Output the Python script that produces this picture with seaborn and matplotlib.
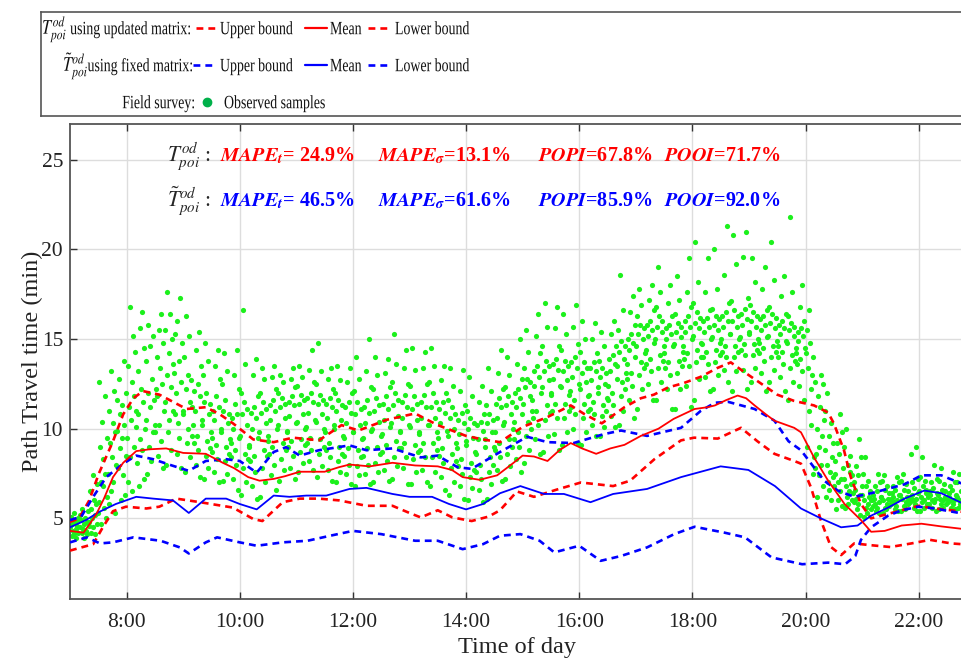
import matplotlib
matplotlib.use('Agg')
import matplotlib.pyplot as plt
import seaborn as sns
import numpy as np
import pandas as pd
from matplotlib.textpath import TextPath
from matplotlib.patches import PathPatch
from matplotlib.font_manager import FontProperties
from matplotlib.transforms import Affine2D

# curves (hour of day, minutes)
red_mean_t = [7.0, 7.24, 7.46, 7.6, 7.76, 7.94, 8.17, 8.4, 8.7, 9.0, 9.4, 9.7, 9.9, 10.15, 10.35, 10.6, 10.8,
              11.06, 11.5, 11.75, 11.94, 12.3, 12.7, 13.1, 13.5, 13.75, 13.94, 14.24, 14.55, 14.8, 15.0, 15.2,
              15.44, 15.65, 15.85, 16.05, 16.3, 16.55, 16.8, 17.09, 17.4, 17.67, 18.04, 18.27, 18.4, 18.6, 18.8,
              18.95, 19.1, 19.3, 19.45, 19.8, 19.92, 20.15, 20.4, 20.69, 20.98, 21.16, 21.4, 21.7, 22.05, 22.4, 22.8]
red_mean_y = [4.3, 4.2, 5.2, 6.1, 7.3, 8.1, 8.75, 8.85, 8.9, 8.65, 8.6, 8.1, 7.8, 7.3, 7.1, 7.2, 7.35,
              7.6, 7.6, 7.85, 8.0, 7.9, 8.1, 7.95, 7.9, 7.7, 7.3, 7.15, 7.4, 8.0, 8.5, 8.45,
              8.2, 8.8, 9.2, 8.9, 8.6, 8.9, 9.1, 9.6, 10.0, 10.55, 11.1, 11.2, 11.3, 11.6, 11.85,
              11.7, 11.3, 10.8, 10.45, 10.05, 9.8, 8.4, 7.1, 5.8, 4.9, 4.25, 4.3, 4.6, 4.7, 4.55, 4.4]

red_up_t = [7.0, 7.16, 7.34, 7.51, 7.76, 7.94, 8.12, 8.29, 8.58, 8.88, 9.06, 9.4, 9.65, 9.88, 10.24, 10.6,
            10.94, 11.4, 11.8, 12.1, 12.6, 13.1, 13.5, 14.0, 14.3, 14.6, 15.0, 15.44, 15.85, 16.1, 16.4, 16.8,
            17.09, 17.32, 17.57, 17.85, 18.15, 18.45, 18.68, 18.9, 19.2, 19.5, 19.8, 20.15, 20.4, 20.5, 20.68,
            20.8, 20.98, 21.16, 21.4, 21.7, 22.0, 22.27, 22.58, 22.8]
red_up_y = [4.8, 5.0, 6.0, 7.5, 9.3, 10.8, 11.7, 12.1, 11.9, 11.4, 11.1, 11.2, 10.8, 10.3, 9.4, 9.25,
            9.5, 9.35, 10.2, 9.9, 10.5, 10.85, 10.2, 9.6, 9.4, 9.25, 10.1, 10.65, 11.3, 10.8, 10.3, 11.2,
            11.7, 11.9, 12.3, 12.55, 12.9, 13.4, 13.7, 13.2, 12.55, 11.9, 11.55, 11.3, 10.9, 10.3, 8.8,
            7.3, 5.8, 5.0, 5.2, 5.45, 5.7, 5.55, 5.45, 5.35]

red_low_t = [7.0, 7.41, 7.58, 7.76, 7.99, 8.35, 8.58, 8.88, 9.3, 9.88, 10.24, 10.4, 10.76, 11.06, 11.4,
             11.76, 12.24, 12.7, 13.0, 13.2, 13.5, 13.76, 14.1, 14.4, 14.6, 14.9, 15.2, 15.6, 16.03, 16.6,
             16.9, 17.33, 17.8, 18.03, 18.45, 18.86, 19.15, 19.45, 19.8, 19.92, 20.1, 20.27, 20.45, 20.63,
             20.86, 21.16, 21.5, 21.87, 22.2, 22.58, 22.8]
red_low_y = [3.2, 3.56, 4.5, 5.4, 5.65, 5.55, 5.65, 6.1, 5.9, 5.6, 4.96, 4.85, 5.9, 6.1, 6.1,
             6.0, 5.7, 5.7, 5.3, 5.05, 5.45, 5.05, 4.85, 5.1, 5.45, 6.5, 6.2, 6.6, 7.0, 6.8,
             7.1, 8.3, 9.35, 9.5, 9.45, 10.05, 9.3, 8.6, 8.2, 8.05, 6.7, 4.9, 3.4, 2.95,
             3.6, 3.5, 3.4, 3.6, 3.8, 3.6, 3.55]

blue_mean_t = [7.0, 7.28, 7.51, 7.81, 8.17, 8.47, 8.82, 9.1, 9.4, 9.76, 10.0, 10.3, 10.6, 10.88, 11.18,
               11.53, 11.94, 12.24, 12.7, 13.0, 13.4, 13.7, 14.0, 14.3, 14.6, 14.96, 15.38, 15.73, 16.2,
               16.6, 17.2, 17.8, 18.5, 18.99, 19.46, 19.92, 20.27, 20.63, 20.92, 21.16, 21.46, 21.75, 22.1,
               22.4, 22.8]
blue_mean_y = [4.5, 4.9, 5.35, 5.8, 6.2, 6.1, 6.0, 5.3, 6.1, 6.1, 5.8, 5.5, 6.27, 6.2, 6.27,
               6.27, 6.64, 6.7, 6.36, 6.2, 6.2, 5.8, 5.5, 5.8, 6.4, 6.8, 6.36, 6.36, 5.9,
               6.36, 6.64, 7.3, 7.9, 7.7, 6.8, 5.55, 5.0, 4.5, 4.6, 5.15, 5.6, 6.1, 6.55,
               6.4, 5.8]

blue_up_t = [7.0, 7.2, 7.41, 7.64, 7.94, 8.17, 8.47, 8.8, 9.1, 9.4, 9.76, 10.0, 10.3, 10.6, 10.82, 11.06,
             11.4, 11.94, 12.24, 12.7, 13.2, 13.5, 13.85, 14.1, 14.6, 15.08, 15.44, 15.9, 16.44, 16.74, 17.2,
             17.8, 18.15, 18.4, 18.63, 19.1, 19.45, 19.7, 19.92, 20.1, 20.33, 20.57, 20.86, 21.16, 21.46,
             21.75, 22.05, 22.4, 22.63, 22.8]
blue_up_y = [4.9, 5.1, 6.2, 7.3, 8.05, 8.5, 8.3, 7.95, 7.65, 8.2, 8.3, 8.2, 7.55, 8.7, 8.97, 8.5,
             8.8, 9.07, 8.8, 8.9, 8.4, 8.5, 7.85, 7.76, 8.7, 9.55, 9.25, 9.2, 9.7, 9.9, 9.6,
             10.05, 11.0, 11.45, 11.5, 11.1, 10.45, 9.3, 8.8, 8.05, 7.1, 6.55, 6.2, 6.4, 6.65,
             6.9, 7.4, 7.4, 7.1, 6.9]

blue_low_t = [7.0, 7.3, 7.53, 7.76, 8.12, 8.6, 8.94, 9.1, 9.4, 9.6, 10.0, 10.3, 10.76, 11.2, 11.6, 12.0,
              12.5, 13.1, 13.5, 13.94, 14.3, 14.6, 14.96, 15.3, 15.56, 16.0, 16.38, 16.74, 17.2, 17.68,
              18.04, 18.57, 18.93, 19.4, 19.94, 20.4, 20.7, 20.88, 20.98, 21.16, 21.46, 21.7, 22.0, 22.28,
              22.63, 22.8]
blue_low_y = [3.66, 3.94, 3.6, 3.66, 3.94, 3.75, 3.38, 3.04, 3.66, 3.94, 3.66, 3.47, 3.66, 3.75, 4.03, 4.3,
              4.12, 3.75, 3.75, 3.28, 3.56, 4.03, 4.12, 3.75, 3.1, 3.47, 2.63, 2.9, 3.38, 4.12,
              4.53, 4.2, 3.94, 2.82, 2.44, 2.53, 2.44, 2.9, 3.8, 4.5, 5.15, 5.45, 5.65, 5.55,
              5.35, 5.25]

# field survey samples, one list per 10-minute slot starting at 7:00
obs_samples = [
    [4.5, 5.1, 4.0, 4.7, 4.3, 5.3, 4.1, 4.8, 4.4, 3.9, 4.6, 5.0, 4.2, 4.9],
    [4.6, 5.4, 4.1, 4.8, 4.3, 5.0, 3.9, 4.7, 4.4, 5.5, 4.2, 4.9, 4.5, 5.2],
    [4.8, 6.5, 4.2, 5.5, 5.0, 7.4, 4.5, 6.0, 5.2, 4.1, 5.8, 6.9, 4.7, 5.3],
    [6.2, 9.5, 5.0, 7.5, 11.8, 5.6, 8.3, 6.8, 10.4, 4.7, 7.0, 9.0, 5.9, 12.6],
    [7.5, 11.0, 5.8, 9.2, 13.2, 6.5, 8.4, 10.3, 7.0, 12.1, 5.3, 9.8, 8.0, 11.6],
    [8.5, 12.0, 6.3, 10.2, 13.8, 7.4, 9.5, 11.3, 6.0, 10.8, 8.9, 12.8, 7.8, 9.9],
    [9.5, 13.5, 7.0, 11.2, 16.8, 8.4, 10.5, 12.6, 6.5, 15.2, 9.0, 11.8, 14.3, 10.1],
    [10.0, 14.5, 7.2, 11.5, 16.5, 8.8, 12.2, 9.4, 15.6, 6.8, 10.8, 13.2, 8.1, 11.0],
    [10.5, 13.8, 7.5, 12.0, 15.8, 9.0, 11.2, 14.6, 8.2, 12.8, 9.8, 15.2, 11.6, 10.2],
    [11.0, 14.8, 7.8, 12.5, 16.4, 9.3, 13.4, 10.2, 15.5, 8.5, 11.8, 14.0, 12.2, 9.8],
    [11.5, 15.5, 8.0, 13.0, 17.6, 9.8, 14.2, 10.5, 16.4, 8.8, 12.3, 15.0, 11.0, 13.6],
    [11.0, 14.8, 7.8, 12.6, 17.3, 9.5, 13.8, 10.3, 16.0, 8.6, 12.0, 15.3, 10.8, 13.1],
    [10.8, 14.0, 7.6, 12.2, 16.3, 9.2, 13.0, 10.0, 15.2, 8.4, 11.5, 12.7, 9.6, 11.2],
    [10.5, 13.5, 7.3, 11.8, 15.4, 8.8, 12.5, 9.6, 14.4, 8.0, 11.0, 12.1, 9.2, 10.2],
    [10.2, 13.0, 7.2, 11.5, 14.8, 8.5, 12.0, 9.3, 13.8, 7.8, 10.8, 11.4, 8.9, 9.8],
    [10.0, 12.8, 7.0, 11.2, 14.4, 8.3, 11.8, 9.1, 13.5, 7.6, 10.5, 11.0, 8.7, 9.5],
    [9.8, 12.5, 7.1, 11.0, 14.2, 8.2, 11.6, 9.0, 13.2, 7.5, 10.3, 10.8, 8.6, 9.4],
    [9.5, 12.2, 6.6, 10.8, 14.4, 8.0, 11.4, 8.8, 13.0, 7.2, 10.0, 10.6, 8.4, 9.2],
    [9.6, 12.0, 6.3, 10.8, 16.6, 7.8, 11.5, 8.6, 13.6, 7.0, 10.2, 11.1, 8.3, 9.1],
    [9.5, 11.8, 6.1, 10.6, 13.9, 7.6, 11.2, 8.5, 13.0, 6.8, 10.0, 10.9, 8.2, 9.0],
    [9.8, 12.0, 6.2, 10.9, 13.4, 7.8, 11.5, 8.8, 12.8, 7.0, 10.3, 11.1, 8.5, 9.3],
    [10.0, 12.2, 6.6, 11.0, 13.5, 8.0, 11.6, 9.0, 12.9, 7.4, 10.5, 11.3, 8.6, 9.6],
    [10.2, 12.0, 7.1, 11.2, 13.0, 8.3, 11.7, 9.2, 12.6, 7.7, 10.6, 11.4, 8.8, 9.8],
    [10.3, 12.3, 7.2, 11.3, 13.4, 8.5, 11.8, 9.3, 12.8, 7.8, 10.7, 11.5, 9.0, 9.9],
    [10.4, 12.4, 7.6, 11.4, 13.5, 8.7, 11.9, 9.4, 12.9, 8.1, 10.8, 11.6, 9.1, 10.0],
    [10.5, 12.6, 7.7, 11.5, 14.4, 8.8, 12.0, 9.5, 13.3, 8.2, 10.9, 11.7, 9.2, 10.1],
    [10.4, 12.5, 7.3, 11.4, 14.8, 8.6, 11.9, 9.4, 13.2, 7.9, 10.8, 11.6, 9.0, 10.0],
    [10.2, 12.2, 7.1, 11.2, 13.4, 8.4, 11.7, 9.2, 12.8, 7.7, 10.6, 11.4, 8.8, 9.8],
    [10.0, 12.0, 7.0, 11.0, 13.5, 8.2, 11.6, 9.0, 12.7, 7.6, 10.5, 11.3, 8.6, 9.6],
    [9.8, 12.0, 6.9, 10.9, 13.4, 8.0, 11.5, 8.9, 12.6, 7.5, 10.3, 11.2, 8.5, 9.5],
    [9.8, 12.1, 6.8, 10.8, 14.0, 7.9, 11.5, 8.8, 12.8, 7.4, 10.2, 11.1, 8.4, 9.4],
    [9.9, 12.3, 6.9, 10.9, 15.0, 8.0, 11.6, 8.9, 13.2, 7.5, 10.3, 11.2, 8.5, 9.5],
    [10.0, 12.2, 7.0, 11.0, 14.0, 8.1, 11.7, 9.0, 13.0, 7.6, 10.4, 11.3, 8.6, 9.6],
    [10.1, 12.3, 7.1, 11.1, 13.9, 8.2, 11.8, 9.1, 13.1, 7.7, 10.5, 11.4, 8.7, 9.7],
    [10.3, 12.6, 7.2, 11.3, 15.3, 8.4, 12.0, 9.3, 13.6, 7.9, 10.7, 11.6, 8.9, 9.9],
    [10.2, 12.5, 6.9, 11.2, 14.4, 8.4, 11.9, 9.2, 13.4, 7.8, 10.6, 11.5, 8.9, 9.8],
    [10.1, 12.4, 6.9, 11.1, 14.5, 8.3, 11.8, 9.1, 13.3, 7.6, 10.5, 11.4, 8.7, 9.7],
    [10.2, 12.5, 7.0, 11.2, 14.3, 8.4, 11.9, 9.2, 13.4, 7.7, 10.6, 11.5, 8.8, 9.8],
    [10.2, 12.6, 6.8, 11.2, 14.5, 8.4, 12.0, 9.2, 13.5, 7.6, 10.6, 11.5, 8.8, 9.8],
    [9.9, 12.0, 6.6, 10.9, 13.5, 8.1, 11.5, 8.9, 12.7, 7.3, 10.3, 11.1, 8.5, 9.5],
    [9.6, 11.6, 6.3, 10.6, 13.4, 7.8, 11.2, 8.6, 12.4, 7.0, 10.0, 10.8, 8.2, 9.2],
    [9.3, 11.3, 6.1, 10.3, 13.3, 7.5, 10.9, 8.3, 12.1, 6.8, 9.7, 10.5, 7.9, 8.9],
    [9.1, 11.0, 6.0, 10.0, 12.9, 7.3, 10.6, 8.1, 11.8, 6.7, 9.5, 10.3, 7.7, 8.7],
    [9.0, 10.8, 5.9, 9.9, 12.4, 7.2, 10.4, 8.0, 11.5, 6.6, 9.4, 10.2, 7.6, 8.6],
    [9.4, 11.3, 6.1, 10.3, 13.4, 7.6, 10.8, 8.4, 12.1, 6.9, 9.8, 10.5, 8.0, 9.0],
    [10.2, 12.2, 7.1, 11.2, 14.4, 8.4, 11.7, 9.2, 13.1, 7.7, 10.6, 11.4, 8.8, 9.8],
    [10.4, 12.3, 7.2, 11.3, 14.0, 8.6, 11.8, 9.4, 13.0, 7.9, 10.8, 11.5, 9.0, 10.0],
    [10.8, 12.8, 7.6, 11.7, 15.0, 9.0, 12.2, 9.8, 13.6, 8.3, 11.2, 12.0, 9.4, 10.4],
    [11.4, 13.4, 8.1, 12.3, 15.5, 9.6, 12.8, 10.4, 14.3, 8.8, 11.8, 12.6, 10.0, 11.0],
    [12.0, 14.2, 8.6, 12.9, 16.4, 10.2, 13.5, 11.0, 15.2, 9.4, 12.4, 13.2, 10.6, 11.6],
    [12.3, 14.6, 8.7, 13.2, 17.0, 10.5, 13.8, 11.3, 15.7, 9.6, 12.7, 13.5, 10.9, 11.9],
    [12.4, 14.6, 8.8, 13.3, 16.8, 10.6, 13.9, 11.4, 15.6, 9.7, 12.8, 13.6, 11.0, 12.0],
    [12.3, 14.4, 9.1, 13.2, 16.4, 10.6, 13.8, 11.4, 15.3, 9.8, 12.7, 13.5, 11.0, 11.9],
    [12.5, 14.7, 9.2, 13.4, 16.9, 10.8, 14.0, 11.6, 15.7, 10.0, 12.9, 13.7, 11.2, 12.1],
    [12.2, 14.3, 9.1, 13.1, 16.0, 10.6, 13.7, 11.4, 15.0, 9.8, 12.6, 13.4, 11.0, 11.8],
    [12.3, 14.2, 9.6, 13.2, 15.9, 10.8, 13.7, 11.5, 15.0, 10.2, 12.7, 13.4, 11.1, 11.9],
    [12.0, 13.8, 9.6, 12.9, 15.4, 10.7, 13.4, 11.3, 14.6, 10.1, 12.5, 13.1, 11.0, 11.7],
    [12.8, 14.6, 10.1, 13.6, 16.0, 11.3, 14.1, 12.0, 15.3, 10.7, 13.2, 13.9, 11.6, 12.4],
    [13.5, 15.5, 10.2, 14.3, 18.6, 11.8, 14.9, 12.6, 16.6, 11.0, 13.9, 14.6, 12.2, 13.1],
    [14.0, 15.8, 10.6, 14.8, 17.4, 12.4, 15.3, 13.1, 16.5, 11.6, 14.4, 15.0, 12.8, 13.6],
    [14.6, 16.3, 11.1, 15.3, 17.8, 13.0, 15.8, 13.7, 16.9, 12.2, 15.0, 15.6, 13.4, 14.2],
    [14.8, 16.6, 11.6, 15.5, 18.0, 13.2, 16.0, 13.9, 17.2, 12.5, 15.2, 15.8, 13.6, 14.4],
    [15.0, 16.8, 11.6, 15.7, 19.0, 13.4, 16.3, 14.1, 17.6, 12.6, 15.4, 16.0, 13.8, 14.6],
    [14.6, 16.3, 11.1, 15.3, 18.0, 13.0, 15.8, 13.7, 17.0, 12.2, 15.0, 15.6, 13.4, 14.2],
    [14.7, 16.4, 11.1, 15.4, 18.5, 13.1, 15.9, 13.8, 17.2, 12.2, 15.1, 15.7, 13.5, 14.3],
    [15.0, 16.8, 11.2, 15.7, 19.5, 13.5, 16.3, 14.2, 17.6, 12.4, 15.4, 16.0, 13.9, 14.6],
    [15.2, 17.0, 11.6, 15.9, 20.4, 13.7, 16.5, 14.4, 18.2, 12.8, 15.6, 16.2, 14.0, 14.8],
    [15.0, 16.6, 12.1, 15.7, 19.5, 13.6, 16.2, 14.3, 17.6, 12.9, 15.4, 16.0, 14.0, 14.7],
    [15.1, 16.7, 12.2, 15.8, 20.0, 13.7, 16.3, 14.4, 17.8, 13.0, 15.5, 16.1, 14.1, 14.8],
    [15.3, 17.0, 12.6, 16.0, 21.3, 14.0, 16.5, 14.6, 18.6, 13.3, 15.7, 16.3, 14.3, 15.0],
    [15.3, 17.1, 12.1, 16.0, 20.8, 14.0, 16.6, 14.6, 19.2, 13.2, 15.7, 16.3, 14.3, 15.0],
    [15.4, 17.3, 12.2, 16.1, 21.0, 14.1, 16.7, 14.7, 19.6, 13.3, 15.8, 16.4, 14.4, 15.1],
    [15.3, 16.9, 12.6, 16.0, 19.5, 14.1, 16.5, 14.7, 18.2, 13.4, 15.7, 16.3, 14.4, 15.0],
    [15.1, 16.6, 12.1, 15.8, 19.0, 13.8, 16.3, 14.5, 17.8, 13.1, 15.5, 16.1, 14.2, 14.8],
    [15.2, 16.8, 12.6, 15.9, 20.4, 14.0, 16.4, 14.6, 18.3, 13.3, 15.6, 16.2, 14.3, 14.9],
    [14.9, 16.4, 12.1, 15.6, 18.5, 13.6, 16.0, 14.3, 17.4, 12.9, 15.3, 15.8, 14.0, 14.6],
    [14.8, 16.3, 11.6, 15.5, 21.8, 13.4, 15.9, 14.1, 17.6, 12.6, 15.2, 15.7, 13.8, 14.5],
    [14.5, 16.0, 11.6, 15.2, 18.0, 13.2, 15.6, 13.9, 16.8, 12.4, 14.9, 15.4, 13.6, 14.2],
    [14.2, 15.5, 9.0, 13.4, 16.6, 11.0, 14.8, 12.2, 10.2, 13.0, 7.5, 14.0, 8.4, 12.6],
    [10.5, 12.5, 6.8, 9.6, 13.0, 8.0, 11.2, 7.4, 9.0, 11.8, 6.2, 10.0, 8.6, 7.8],
    [8.8, 11.0, 6.2, 8.0, 12.0, 7.0, 9.6, 6.6, 7.6, 10.3, 6.0, 8.4, 9.2, 7.3],
    [7.8, 9.8, 5.7, 7.2, 10.8, 6.5, 8.6, 6.0, 7.0, 9.2, 5.5, 7.5, 8.2, 6.8],
    [7.2, 9.0, 5.6, 6.8, 10.0, 6.2, 8.0, 5.8, 6.5, 8.5, 7.6, 6.9, 7.4, 6.0],
    [6.8, 8.4, 5.2, 6.3, 9.4, 5.8, 7.4, 5.5, 6.1, 7.9, 6.6, 7.0, 5.9, 6.4],
    [6.3, 7.5, 5.1, 6.0, 8.4, 5.6, 6.8, 5.3, 5.8, 7.1, 6.2, 6.5, 5.5, 6.0],
    [6.2, 7.0, 5.3, 5.9, 7.5, 5.6, 6.5, 5.4, 5.8, 6.8, 6.1, 6.3, 5.7, 6.0],
    [6.2, 7.1, 5.3, 6.0, 7.4, 5.6, 6.6, 5.5, 5.8, 6.8, 6.1, 6.4, 5.7, 6.0],
    [6.3, 7.0, 5.4, 6.0, 7.3, 5.7, 6.6, 5.5, 5.9, 6.8, 6.2, 6.4, 5.8, 6.1],
    [6.3, 7.1, 5.4, 6.1, 7.5, 5.7, 6.6, 5.5, 5.9, 6.9, 6.2, 6.5, 5.8, 6.0],
    [6.4, 7.2, 5.4, 6.1, 9.0, 5.8, 6.7, 5.6, 6.0, 7.0, 6.3, 8.6, 5.9, 6.2],
    [6.5, 7.3, 5.4, 6.2, 8.4, 5.9, 6.8, 5.6, 6.0, 7.1, 6.4, 6.6, 5.8, 6.3],
    [6.4, 7.2, 5.4, 6.1, 8.0, 5.9, 6.7, 5.6, 6.0, 7.0, 6.3, 6.5, 5.8, 6.2],
    [6.3, 7.1, 5.5, 6.1, 7.8, 5.8, 6.6, 5.6, 6.0, 6.9, 6.2, 6.5, 5.8, 6.2],
    [6.3, 7.0, 5.5, 6.0, 7.6, 5.8, 6.6, 5.6, 6.0, 6.8, 6.2, 6.4, 5.9, 6.1],
    [6.2, 7.0, 5.6, 6.0, 7.5, 5.8, 6.5, 5.7, 6.0, 6.8, 6.2, 6.4, 5.9, 6.1],
]

xtick_hours = [8, 10, 12, 14, 16, 18, 20, 22]
xtick_labels = ['8:00', '10:00', '12:00', '14:00', '16:00', '18:00', '20:00', '22:00']
ytick_vals = [5, 10, 15, 20, 25]

metrics_upd = ['24.9%', '13.1%', '67.8%', '71.7%']
metrics_fix = ['46.5%', '61.6%', '85.9%', '92.0%']

RED = '#ff0000'
BLUE = '#0000ff'
GREEN = '#1cf01c'
DASH = (0, (2.6, 1.9))

sns.set_theme(style='white')
plt.rcParams['font.family'] = ['Liberation Serif', 'DejaVu Serif']
plt.rcParams['mathtext.fontset'] = 'stix'

# sample times spread across each 10-minute slot (alternate direction per slot)
obs_t, obs_y = [], []
for i, vals in enumerate(obs_samples):
    n = len(vals)
    for k, v in enumerate(vals):
        pos = k if i % 2 == 0 else n - 1 - k
        obs_t.append(7 + i / 6 + (pos + 0.5) / n / 6)
        obs_y.append(v)
obs = pd.DataFrame({'t': obs_t, 'y': obs_y})

W, H = 962, 662
fig = plt.figure(figsize=(W / 100, H / 100), dpi=100)
ax = fig.add_axes([70 / W, 1 - 599 / H, 1 - 70 / W + 0.002, 475 / H])

sns.scatterplot(data=obs, x='t', y='y', ax=ax, color=GREEN, s=14, linewidth=0, marker='o', zorder=2)

curves = [
    (red_up_t, red_up_y, RED, DASH, 1.9),
    (red_low_t, red_low_y, RED, DASH, 1.9),
    (blue_up_t, blue_up_y, BLUE, DASH, 1.9),
    (blue_low_t, blue_low_y, BLUE, DASH, 1.9),
    (blue_mean_t, blue_mean_y, BLUE, '-', 1.3),
    (red_mean_t, red_mean_y, RED, '-', 1.3),
]
for tx, ty, c, ls, lw in curves:
    sns.lineplot(x=tx, y=ty, ax=ax, color=c, linestyle=ls, linewidth=lw, zorder=3, sort=False)

ax.set_xlim(7, 22.8)
ax.set_ylim(0.5, 27)
ax.set_xticks(xtick_hours)
ax.set_xticklabels(xtick_labels)
ax.set_yticks(ytick_vals)
ax.tick_params(axis='both', direction='in', length=5, width=1, colors='#333333',
               labelsize=15.5, labelcolor='#222222', top=True, left=True, bottom=True, right=False)
ax.tick_params(axis='x', pad=10)
ax.tick_params(axis='y', pad=5)
ax.grid(True, color='#dddddd', linewidth=1)
for side in ['left', 'bottom', 'top']:
    ax.spines[side].set_color('#555555')
    ax.spines[side].set_linewidth(1.3)
ax.spines['right'].set_visible(False)
ax.set_xlabel('Time of day', fontsize=17.5, color='#222222', labelpad=4)
ax.set_ylabel('Path Travel time (min)', fontsize=17.5, color='#222222', labelpad=-1)

# metrics text inside plot
ax.text(0.109, 0.932, r'$T_{poi}^{od}$ :', transform=ax.transAxes, fontsize=15.5, va='center')
ax.text(0.109, 0.838, r'$\tilde{T}_{poi}^{od}$ :', transform=ax.transAxes, fontsize=15.5, va='center')
mx = [0.168, 0.345, 0.524, 0.665]
names = [r'$\mathbfit{MAPE}_{\mathbfit{t}}$= ', r'$\mathbfit{MAPE}_{\boldsymbol{\sigma}}$=',
         r'$\mathbfit{POPI}$=', r'$\mathbfit{POOI}$=']
for vals, yy, c in [(metrics_upd, 0.932, RED), (metrics_fix, 0.838, BLUE)]:
    for x0, nm, v in zip(mx, names, vals):
        ax.text(x0, yy, nm + v, transform=ax.transAxes, fontsize=14.5, fontweight='bold',
                color=c, va='center')

# legend box drawn in pixel-like coordinates
lax = fig.add_axes([41 / W, 1 - 116 / H, 1 - 41 / W + 0.01, 104 / H])
lax.set_xlim(41, W + 10)
lax.set_ylim(116, 12)
lax.set_xticks([])
lax.set_yticks([])
lax.set_facecolor('white')
for side in ['left', 'bottom', 'top']:
    lax.spines[side].set_color('#555555')
    lax.spines[side].set_linewidth(1.2)
lax.spines['right'].set_visible(False)

LEG_FONT = FontProperties(family='Liberation Serif')
px_per_pt = fig.dpi / 72


def narrow_text(x, y, s, size=13.5, sx=0.74, ha='left'):
    # legend text in the source is horizontally condensed; draw it as a squeezed text path
    tp = TextPath((0, 0), s, size=size, prop=LEG_FONT)
    ext = tp.get_extents()
    w = ext.x1 * sx * px_per_pt
    x0 = x - w if ha == 'right' else x
    base = H - y - 0.33 * size * px_per_pt
    tr = Affine2D().scale(sx * px_per_pt, px_per_pt).translate(x0, base)
    fig.add_artist(PathPatch(tp, transform=tr, facecolor='#111111', edgecolor='none', zorder=5))


rows = [(28, r'$T_{poi}^{od}$', 'using updated matrix:', RED, 42, 190, 196, 217),
        (65, r'$\tilde{T}_{poi}^{od}$', 'using fixed matrix:', BLUE, 63, 192, 193, 215)]
for yy, sym, label, c, symx, labx, d0, d1 in rows:
    narrow_text(symx, yy - 1, sym, size=15, sx=0.78)
    narrow_text(labx, yy, label, ha='right')
    lax.plot([d0, d1], [yy, yy], color=c, linestyle=DASH, linewidth=1.9)
    narrow_text(220, yy, 'Upper bound')
    lax.plot([305, 327], [yy, yy], color=c, linewidth=1.6)
    narrow_text(330, yy, 'Mean')
    lax.plot([368, 390], [yy, yy], color=c, linestyle=DASH, linewidth=1.9)
    narrow_text(395, yy, 'Lower bound')
narrow_text(194, 102, 'Field survey:', ha='right')
lax.plot([207], [102], 'o', color='#00b04a', markersize=6)
narrow_text(224, 102, 'Observed samples')

fig.savefig('out.png', dpi=100, facecolor='white')
